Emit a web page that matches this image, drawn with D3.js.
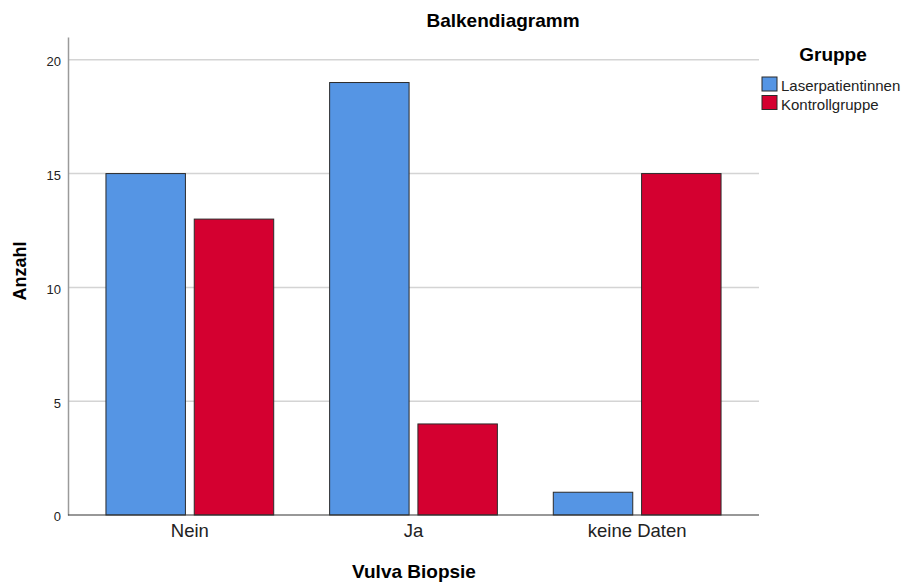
<!DOCTYPE html>
<html><head><meta charset="utf-8">
<script src="https://cdn.jsdelivr.net/npm/d3@7"></script>
<style>body{margin:0;background:#fff}svg{display:block;font-family:Arial,"Liberation Sans",sans-serif}</style>
</head><body><svg id="c" width="907" height="585"></svg>
<script>
const categories = ["Nein", "Ja", "keine Daten"];
const seriesNames = ["Laserpatientinnen", "Kontrollgruppe"];
const laserValues = [15, 19, 1];
const kontrollValues = [13, 4, 15];
const yTicks = [0, 5, 10, 15, 20];
const colors = ["#5595E4", "#D40030"];

const svg = d3.select("#c");
const L = 68, R = 759, T = 37, B = 515;
const x0 = d3.scaleBand().domain(categories).range([78, 749]).paddingInner(0.25).paddingOuter(0.125);
const x1 = d3.scaleBand().domain(seriesNames).range([0, x0.bandwidth()]).paddingInner(0.1);
const y = d3.scaleLinear().domain([0, 21]).range([B, T]);

// grid
svg.append("g").selectAll("line").data(yTicks.filter(d => d > 0)).join("line")
  .attr("x1", L).attr("x2", R).attr("y1", d => y(d)).attr("y2", d => y(d))
  .attr("stroke", "#d4d4d4").attr("stroke-width", 1.5);

// y axis
const ya = svg.append("g").attr("transform", `translate(${L},0)`)
  .call(d3.axisLeft(y).tickValues(yTicks).tickSize(0).tickPadding(7));
ya.select(".domain").attr("stroke", "#9a9a9a").attr("stroke-width", 1.5);
ya.selectAll("text").attr("font-size", 13).attr("fill", "#222").attr("dy", "0.45em")
  .attr("font-family", "Arial, 'Liberation Sans', sans-serif");

// bars
const data = categories.map((c, i) => ({c, vals: [laserValues[i], kontrollValues[i]]}));
const g = svg.append("g").selectAll("g").data(data).join("g")
  .attr("transform", d => `translate(${x0(d.c)},0)`);
g.selectAll("rect").data(d => d.vals.map((v, j) => ({s: seriesNames[j], v, j}))).join("rect")
  .attr("x", d => x1(d.s)).attr("width", x1.bandwidth())
  .attr("y", d => y(d.v)).attr("height", d => y(0) - y(d.v))
  .attr("fill", d => colors[d.j]).attr("stroke", "#2b2b2b").attr("stroke-width", 1);

// x axis
const xa = svg.append("g").attr("transform", `translate(0,${B})`)
  .call(d3.axisBottom(x0).tickSize(0).tickPadding(9).tickSizeOuter(0));
xa.select(".domain").attr("d", `M${L},0H${R}`).attr("stroke", "#333").attr("stroke-width", 1.2);
xa.selectAll("text").attr("font-size", 18.5).attr("fill", "#222")
  .attr("font-family", "Arial, 'Liberation Sans', sans-serif");

// titles
svg.append("text").attr("x", 503).attr("y", 27).attr("text-anchor", "middle")
  .attr("font-size", 19).attr("font-weight", "bold").text("Balkendiagramm");
svg.append("text").attr("x", 414).attr("y", 578).attr("text-anchor", "middle")
  .attr("font-size", 19).attr("font-weight", "bold").text("Vulva Biopsie");
svg.append("text").attr("transform", `translate(26,271) rotate(-90)`).attr("text-anchor", "middle")
  .attr("font-size", 18).attr("font-weight", "bold").text("Anzahl");

// legend
svg.append("text").attr("x", 833).attr("y", 61).attr("text-anchor", "middle")
  .attr("font-size", 19).attr("font-weight", "bold").text("Gruppe");
const lg = svg.append("g").selectAll("g").data(seriesNames).join("g")
  .attr("transform", (d, i) => `translate(762,${77 + i * 18.5})`);
lg.append("rect").attr("width", 15).attr("height", 14).attr("fill", (d, i) => colors[i])
  .attr("stroke", "#2b2b2b").attr("stroke-width", 1);
lg.append("text").attr("x", 19).attr("y", 14).attr("font-size", 15).attr("fill", "#222").text(d => d);
</script></body></html>
